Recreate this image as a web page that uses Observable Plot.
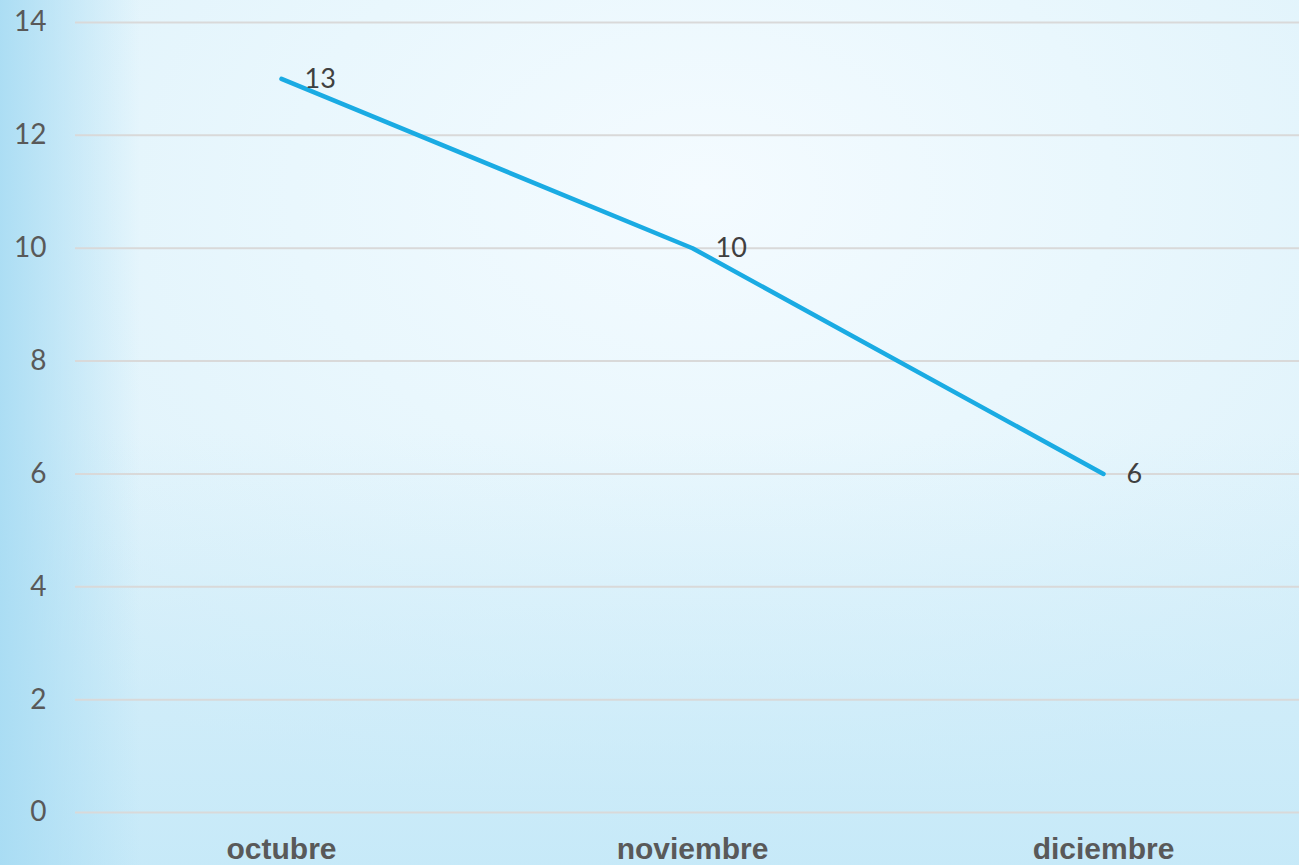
<!DOCTYPE html>
<html>
<head>
<meta charset="utf-8">
<script src="https://cdn.jsdelivr.net/npm/d3@7"></script>
<script src="https://cdn.jsdelivr.net/npm/@observablehq/plot@0.6"></script>
<style>
  html, body { margin: 0; padding: 0; }
  body { width: 1299px; height: 865px; overflow: hidden; }
  #chart {
    width: 1299px; height: 865px;
    background:
      linear-gradient(to right, rgba(166,219,243,0.9) 0px, rgba(166,219,243,0.0) 140px),
      linear-gradient(to bottom, rgba(195,232,248,0) 50%, rgba(195,232,248,0.85) 100%),
      radial-gradient(ellipse 70% 75% at 54% 22%, #f4fbff 0%, #e9f7fd 45%, #dcf1fa 100%);
  }
  #chart svg { display: block; }
</style>
</head>
<body>
<div id="chart"></div>
<script>
const months = ["octubre", "noviembre", "diciembre"];
const values = [13, 10, 6];
const yTicks = [0, 2, 4, 6, 8, 10, 12, 14];

const data = months.map((m, i) => ({month: m, value: values[i]}));

const chart = Plot.plot({
  width: 1299,
  height: 865,
  marginLeft: 75,
  marginRight: 0,
  marginTop: 22,
  marginBottom: 53,
  style: {background: "transparent", color: "#595959", fontFamily: "Lato, 'Noto Sans', sans-serif"},
  x: {type: "point", domain: months, range: [280, 1103], padding: 0, label: null},
  y: {domain: [0, 14], label: null},
  marks: [
    Plot.ruleY(yTicks, {stroke: "#d9d9d9", strokeWidth: 2}),
    Plot.axisY({ticks: yTicks, tickSize: 0, tickPadding: 29, fontSize: 28, fill: "#595959", label: null}),
    Plot.axisX({tickSize: 0, tickPadding: 25, fontSize: 30, fontWeight: "bold", fontFamily: "'Liberation Sans', Arial, sans-serif", fill: "#595959", label: null}),
    Plot.line(data, {x: "month", y: "value", stroke: "#1aabe3", strokeWidth: 4.5, strokeLinecap: "round", strokeLinejoin: "round"}),
    Plot.text(data, {x: "month", y: "value", text: d => String(d.value), textAnchor: "start", dx: 23, fontSize: 27, fill: "#404040"})
  ]
});
document.getElementById("chart").appendChild(chart);
</script>
</body>
</html>
